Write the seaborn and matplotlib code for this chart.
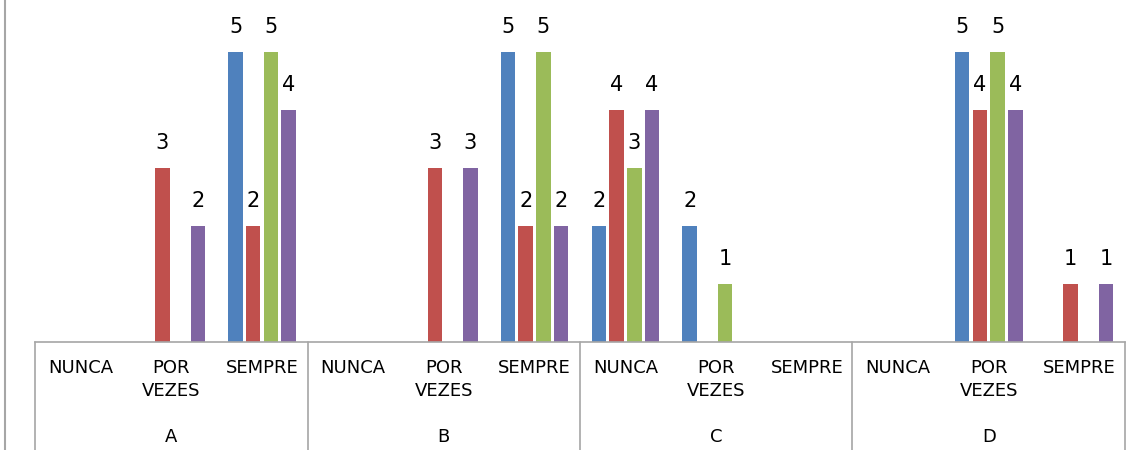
import matplotlib
matplotlib.use("Agg")
import matplotlib.pyplot as plt
import matplotlib.transforms as mtransforms
from matplotlib.lines import Line2D
import seaborn as sns
import pandas as pd

# data
groups = ['A', 'B', 'C', 'D']
categories = ['NUNCA', 'POR\nVEZES', 'SEMPRE']
series_names = ['S1', 'S2', 'S3', 'S4']
s1 = [0, 0, 5, 0, 0, 5, 2, 2, 0, 0, 5, 0]
s2 = [0, 3, 2, 0, 3, 2, 4, 0, 0, 0, 4, 1]
s3 = [0, 0, 5, 0, 0, 5, 3, 1, 0, 0, 5, 0]
s4 = [0, 2, 4, 0, 3, 2, 4, 0, 0, 0, 4, 1]
colors = ['#4F81BD', '#C0504D', '#9BBB59', '#8064A2']

keys = [g + '|' + c for g in groups for c in categories]
rows = []
for name, vals in zip(series_names, [s1, s2, s3, s4]):
    for k, v in zip(keys, vals):
        rows.append({'key': k, 'serie': name, 'value': v})
df = pd.DataFrame(rows)

sns.set_style('white')
plt.rcParams['font.family'] = ['DejaVu Sans']

W, H = 1146, 450
fig = plt.figure(figsize=(W / 100, H / 100), dpi=100)
ax = fig.add_axes([35 / W, 108 / H, (1125 - 35) / W, 342 / H])

sns.barplot(data=df, x='key', y='value', hue='serie', order=keys,
            hue_order=series_names, palette=colors, width=0.78, gap=0.18,
            saturation=1, legend=False, linewidth=0, ax=ax)

for cont, vals in zip(ax.containers, [s1, s2, s3, s4]):
    ax.bar_label(cont, labels=[str(v) if v else '' for v in vals],
                 padding=11, fontsize=15, color='black')

ax.set_ylim(0, 342 / 58)
ax.set_xlim(-0.5, len(keys) - 0.5)
ax.set_yticks([])
ax.set_xlabel('')
ax.set_ylabel('')
for s in ['top', 'right', 'left']:
    ax.spines[s].set_visible(False)
ax.spines['bottom'].set_color('#a6a6a6')
ax.spines['bottom'].set_linewidth(1.2)

ax.set_xticks(range(len(keys)))
ax.set_xticklabels(categories * len(groups), fontsize=13, linespacing=1.35,
                   color='black')
ax.tick_params(axis='x', length=0, pad=12)

trans = mtransforms.blended_transform_factory(ax.transData, ax.transAxes)
for i in range(len(groups) + 1):
    xb = i * len(categories) - 0.5
    ax.plot([xb, xb], [0, -0.32], transform=trans, color='#a6a6a6',
            lw=1.2, clip_on=False)
for i, g in enumerate(groups):
    xc = i * len(categories) + 1
    ax.text(xc, -95 / 342, g, transform=trans, ha='center', va='center',
            fontsize=13, color='black')

fig.add_artist(Line2D([5 / W, 5 / W], [0, 1], color='#a6a6a6', lw=1.5))

fig.savefig('out.png', dpi=100)
